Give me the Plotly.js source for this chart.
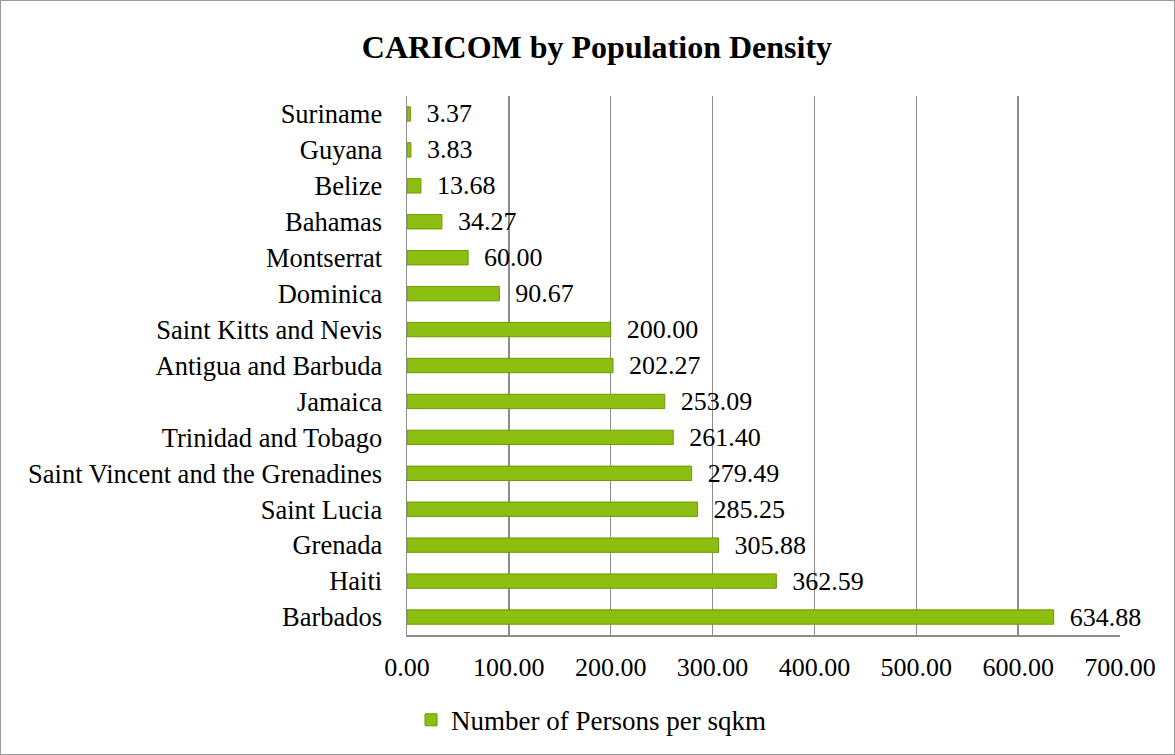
<!DOCTYPE html>
<html><head><meta charset="utf-8">
<script src="https://cdn.plot.ly/plotly-3.0.1.min.js"></script>
<style>html,body{margin:0;padding:0;background:#fff}#chart{width:1175px;height:755px}</style>
</head><body><div id="chart"></div>
<script>
const countries = ["Barbados","Haiti","Grenada","Saint Lucia","Saint Vincent and the Grenadines","Trinidad and Tobago","Jamaica","Antigua and Barbuda","Saint Kitts and Nevis","Dominica","Montserrat","Bahamas","Belize","Guyana","Suriname"];
const density = [634.88,362.59,305.88,285.25,279.49,261.40,253.09,202.27,200.00,90.67,60.00,34.27,13.68,3.83,3.37];
const xTicks = [0,100,200,300,400,500,600,700];
const seriesName = "Number of Persons per sqkm";

const font = "Liberation Serif";
Plotly.newPlot("chart", [{
  type: "bar", orientation: "h",
  y: countries, x: density, name: seriesName,
  text: density.map(v => "\u00a0\u00a0" + v.toFixed(2)), textposition: "outside",
  constraintext: "none",
  textfont: {family: font, size: 26, color: "#000"},
  cliponaxis: false,
  marker: {color: "#8CBF12", line: {color: "#6E9A00", width: 1}},
  width: 0.4
}], {
  width: 1175, height: 755,
  margin: {l: 407, r: 55, t: 96, b: 120},
  paper_bgcolor: "#fff", plot_bgcolor: "#fff",
  font: {family: font, size: 26, color: "#000"},
  title: {text: "<b>CARICOM by Population Density</b>", font: {family: font, size: 32, color: "#000"}, x: 0.508, xanchor: "center", y: 0.938, yanchor: "middle"},
  xaxis: {range: [0, 700], tickvals: xTicks, ticktext: xTicks.map(v => v.toFixed(2)),
    showgrid: true, gridcolor: "#8C8C8C", gridwidth: 1.5, zeroline: false,
    showline: true, linecolor: "#8C8C8C", linewidth: 1.5, ticks: "", ticklen: 0,
    tickfont: {family: font, size: 26}, ticklabelstandoff: 8},
  yaxis: {showline: true, linecolor: "#8C8C8C", linewidth: 1.5, ticks: "",
    tickfont: {family: font, size: 26.5}, automargin: false, ticklabelstandoff: 18},
  showlegend: true,
  legend: {orientation: "h", xref: "container", yref: "container", x: 0.503, xanchor: "center", y: 0.046, yanchor: "middle",
    font: {family: font, size: 27, color: "#000"}, itemwidth: 30},
  bargap: 0.6
}, {displayModeBar: false, staticPlot: true}).then(() => {
  const svg = document.querySelector("#chart .main-svg");
  const r = document.createElementNS("http://www.w3.org/2000/svg", "rect");
  r.setAttribute("x", 0.5); r.setAttribute("y", 0.5);
  r.setAttribute("width", 1174); r.setAttribute("height", 754);
  r.setAttribute("fill", "none"); r.setAttribute("stroke", "#9A9A9A"); r.setAttribute("stroke-width", 1);
  svg.appendChild(r);
});
</script></body></html>
